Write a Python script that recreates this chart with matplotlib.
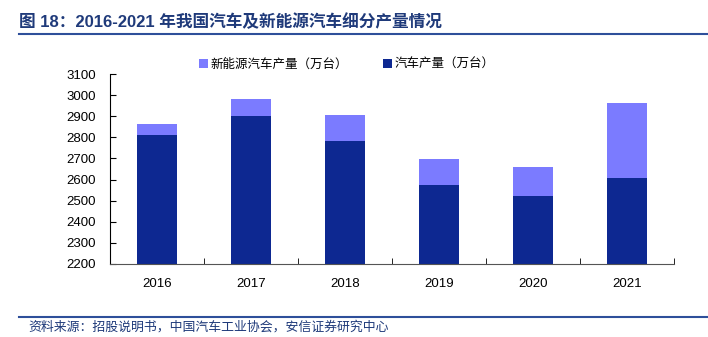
import matplotlib
matplotlib.use("Agg")
import matplotlib.pyplot as plt
import numpy as np

plt.rcParams['font.family'] = ['Liberation Sans', 'Noto Sans CJK SC', 'DejaVu Sans']

# data (万台)
years = ["2016", "2017", "2018", "2019", "2020", "2021"]
car_output = [2811.9, 2901.5, 2780.9, 2572.1, 2522.5, 2608.2]
nev_output = [51.7, 79.4, 127.0, 124.2, 136.6, 354.5]

car_color = "#0D2891"
nev_color = "#7B7BFF"
title_color = "#1F3A7A"

fig = plt.figure(figsize=(7.08, 3.37), dpi=100)
ax = fig.add_axes([0.155, 0.217, 0.797, 0.563])

x = np.arange(len(years))
ax.bar(x, car_output, width=0.42, color=car_color, label="汽车产量（万台）", zorder=2)
ax.bar(x, nev_output, width=0.42, bottom=car_output, color=nev_color,
       label="新能源汽车产量（万台）", zorder=2)

ax.set_xlim(-0.5, 5.5)
ax.set_ylim(2200, 3100)
ax.set_yticks(range(2200, 3101, 100))
ax.set_xticks(x)
ax.set_xticklabels(years)
ax.set_xticks(np.arange(-0.5, 5.6, 1), minor=True)
ax.tick_params(axis='x', which='major', length=0, pad=10, labelsize=9.5)
ax.tick_params(axis='x', which='minor', direction='in', length=4)
ax.tick_params(axis='y', direction='in', length=4, labelsize=9.5, pad=10)
for s in ["top", "right"]:
    ax.spines[s].set_visible(False)
ax.spines["left"].set_color("black")
ax.spines["bottom"].set_color("#555555")

handles, labels = ax.get_legend_handles_labels()
ax.legend(handles[::-1], labels[::-1], loc="lower center", bbox_to_anchor=(0.42, 0.99),
          ncol=2, frameon=False, fontsize=9, handlelength=0.7, handleheight=0.7,
          handletextpad=0.2, columnspacing=2.8, borderaxespad=0)

# title and footer
fig.text(0.027, 0.935, "图 18：2016-2021 年我国汽车及新能源汽车细分产量情况",
         fontsize=12, fontweight='bold', color=title_color, va='center',
         family=['Liberation Sans', 'Noto Sans CJK SC'])
fig.add_artist(plt.Line2D([0.027, 1.0], [0.9, 0.9], color="#2E4F9A", lw=1.5))
fig.add_artist(plt.Line2D([0.027, 1.0], [0.06, 0.06], color="#2E4F9A", lw=1.5))
fig.text(0.04, 0.03, "资料来源：招股说明书，中国汽车工业协会，安信证券研究中心",
         fontsize=9.3, color=title_color, va='center', style='italic',
         family=['Noto Sans CJK SC'])

fig.savefig("out.png", dpi=100)
